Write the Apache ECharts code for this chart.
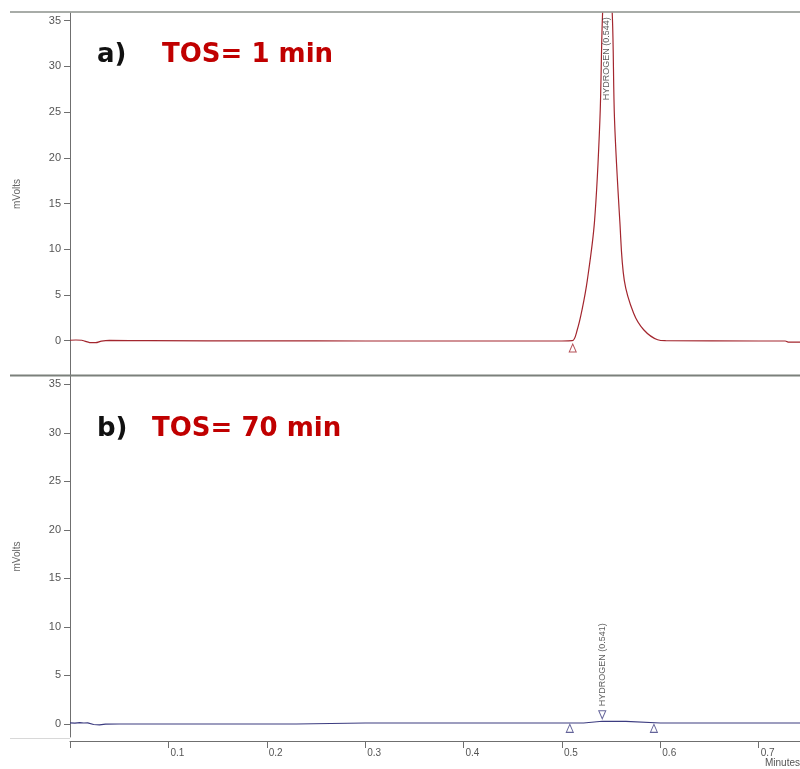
<!DOCTYPE html>
<html>
<head>
<meta charset="utf-8">
<script src="https://cdn.jsdelivr.net/npm/echarts@6/dist/echarts.min.js"></script>
<style>html,body{margin:0;padding:0;background:#fff;}#c{width:800px;height:769px;}</style>
</head>
<body>
<div id="c"></div>
<script>
// ---- Data ----
// Panel a) TOS = 1 min : retention time (min) and signal (mV)
const timesA = [0, 0.006, 0.012, 0.015, 0.02, 0.026, 0.032, 0.04, 0.08, 0.2, 0.3, 0.4, 0.5,
  0.5105, 0.5156, 0.5205, 0.5258, 0.5331, 0.5386, 0.5412, 0.546, 0.5513, 0.5535, 0.5589,
  0.5634, 0.5729, 0.5831, 0.5973, 0.6054, 0.7, 0.727, 0.73, 0.742];
const voltsA = [0.05, 0.08, 0.05, -0.05, -0.2, -0.22, -0.05, 0.03, 0.0, -0.02, -0.03, -0.03, -0.03,
  0, 1.2, 3.4, 6.6, 13, 24.1, 35.4, 46, 35.4, 24.1, 13,
  6.6, 3.0, 1.2, 0.1, 0, -0.03, -0.03, -0.15, -0.15];
// Panel b) TOS = 70 min
const timesB = [0, 0.005, 0.01, 0.014, 0.018, 0.024, 0.03, 0.036, 0.05, 0.1, 0.23, 0.232, 0.3, 0.4, 0.5,
  0.522, 0.524, 0.541, 0.565, 0.567, 0.6, 0.742];
const voltsB = [0.12, 0.08, 0.15, 0.1, 0.12, -0.05, -0.1, -0.02, 0, 0, 0, 0.1, 0.1, 0.1, 0.1,
  0.1, 0.26, 0.28, 0.26, 0.1, 0.1, 0.1];
// Integration markers (peak start / end)
const markTimesA = [0.511];
const markVoltsA = [-0.8];
const markTimesB = [0.508, 0.5935];
const markVoltsB = [-0.45, -0.45];
// Peak apex markers with names
const peakNamesA = ['HYDROGEN (0.544)'];
const peakTimesA = [0.5455];
const peakVoltsA = [26.3];
const peakNamesB = ['HYDROGEN (0.541)'];
const peakTimesB = [0.541];
const peakVoltsB = [0.95];
// Tick values
const yTicks = [0, 5, 10, 15, 20, 25, 30, 35];
const xTicks = [0, 0.1, 0.2, 0.3, 0.4, 0.5, 0.6, 0.7];
const xLabels = [0.1, 0.2, 0.3, 0.4, 0.5, 0.6, 0.7];
const titlesA = ['a)', 'TOS= 1 min'];
const titlesB = ['b)', 'TOS= 70 min'];

const zip = (xs, ys) => xs.map((x, i) => [x, ys[i]]);

const redC = '#a3262e';
const blueC = '#3c3c80';
const axisC = '#6f6f6f';
const labelC = '#555';
const titleFont = 'bold 26px "DejaVu Sans"';

function yAxisCfg(grid, min, max) {
  return {
    type: 'value', gridIndex: grid, min: min, max: max,
    name: 'mVolts', nameLocation: 'middle', nameGap: 48, nameRotate: 90,
    nameTextStyle: {fontFamily: 'Liberation Sans', fontSize: 10, color: '#666'},
    axisLine: {show: true, onZero: false, lineStyle: {color: axisC, width: 1}},
    axisTick: {show: true, length: 6, customValues: yTicks, lineStyle: {color: axisC}},
    axisLabel: {customValues: yTicks, margin: 9, fontFamily: 'Liberation Sans', fontSize: 11, color: labelC},
    splitLine: {show: false}
  };
}

const option = {
  animation: false,
  backgroundColor: '#fff',
  grid: [
    {left: 70, top: 13, width: 730, height: 362, outerBoundsMode: 'none'},
    {left: 70, top: 376, width: 730, height: 361, outerBoundsMode: 'none'}
  ],
  xAxis: [
    {type: 'value', gridIndex: 0, min: 0, max: 0.742, show: false},
    {type: 'value', gridIndex: 1, min: 0, max: 0.742, offset: 4, position: 'bottom',
     axisLine: {show: true, onZero: false, lineStyle: {color: axisC, width: 1}},
     axisTick: {show: true, inside: false, length: 7, customValues: xTicks, lineStyle: {color: axisC}},
     axisLabel: {customValues: xLabels, margin: 7, align: 'left', verticalAlign: 'top', padding: [0, 0, 0, 2],
       fontFamily: 'Liberation Sans', fontSize: 10, color: labelC},
     splitLine: {show: false}}
  ],
  yAxis: [yAxisCfg(0, -3.75, 35.84), yAxisCfg(1, -1.34, 35.85)],
  series: [
    {type: 'line', xAxisIndex: 0, yAxisIndex: 0, data: zip(timesA, voltsA), showSymbol: false, smooth: 0.35,
     lineStyle: {color: redC, width: 1.2}, clip: true, z: 3},
    {type: 'line', xAxisIndex: 1, yAxisIndex: 1, data: zip(timesB, voltsB), showSymbol: false,
     lineStyle: {color: blueC, width: 1.2}, clip: true, z: 3},
    {type: 'scatter', xAxisIndex: 0, yAxisIndex: 0, data: zip(markTimesA, markVoltsA),
     symbol: 'triangle', symbolSize: [7, 8], itemStyle: {color: '#fff', borderColor: redC, borderWidth: 1}},
    {type: 'scatter', xAxisIndex: 1, yAxisIndex: 1, data: zip(markTimesB, markVoltsB),
     symbol: 'triangle', symbolSize: [7, 8], itemStyle: {color: '#fff', borderColor: blueC, borderWidth: 1}},
    {type: 'scatter', xAxisIndex: 0, yAxisIndex: 0, z: 5,
     data: peakTimesA.map((t, i) => ({value: [t, peakVoltsA[i]], name: peakNamesA[i]})),
     symbol: 'circle', symbolSize: 2, itemStyle: {color: 'rgba(0,0,0,0)'},
     label: {show: true, formatter: '{b}', position: 'inside', rotate: 90, align: 'left', verticalAlign: 'middle',
       fontFamily: 'Liberation Sans', fontSize: 9, color: '#333'}},
    {type: 'scatter', xAxisIndex: 1, yAxisIndex: 1,
     data: peakTimesB.map((t, i) => ({value: [t, peakVoltsB[i]], name: peakNamesB[i]})),
     symbol: 'triangle', symbolRotate: 180, symbolSize: [7, 8],
     itemStyle: {color: '#fff', borderColor: blueC, borderWidth: 1},
     label: {show: true, formatter: '{b}', position: 'top', distance: 4, rotate: 90, align: 'left', verticalAlign: 'middle',
       fontFamily: 'Liberation Sans', fontSize: 9, color: '#333'}}
  ],
  graphic: [
    {type: 'line', shape: {x1: 10, y1: 12, x2: 800, y2: 12}, style: {stroke: '#8b908b', lineWidth: 1.5}, z: 10},
    {type: 'line', shape: {x1: 10, y1: 375.5, x2: 800, y2: 375.5}, style: {stroke: '#7b807b', lineWidth: 2}, z: 10},
    {type: 'line', shape: {x1: 10, y1: 738.5, x2: 70, y2: 738.5}, style: {stroke: '#d8d8d8', lineWidth: 1}, z: 10},
    {type: 'text', left: 97, top: 42, style: {text: titlesA[0], font: titleFont, fill: '#111'}},
    {type: 'text', left: 162, top: 42, style: {text: titlesA[1], font: titleFont, fill: '#c00000'}},
    {type: 'text', left: 97, top: 416, style: {text: titlesB[0], font: titleFont, fill: '#111'}},
    {type: 'text', left: 152, top: 416, style: {text: titlesB[1], font: titleFont, fill: '#c00000'}},
    {type: 'text', left: 765, top: 758, style: {text: 'Minutes', font: '10px "Liberation Sans"', fill: labelC}}
  ]
};

const chart = echarts.init(document.getElementById('c'), null, {renderer: 'canvas'});
chart.setOption(option);
</script>
</body>
</html>
